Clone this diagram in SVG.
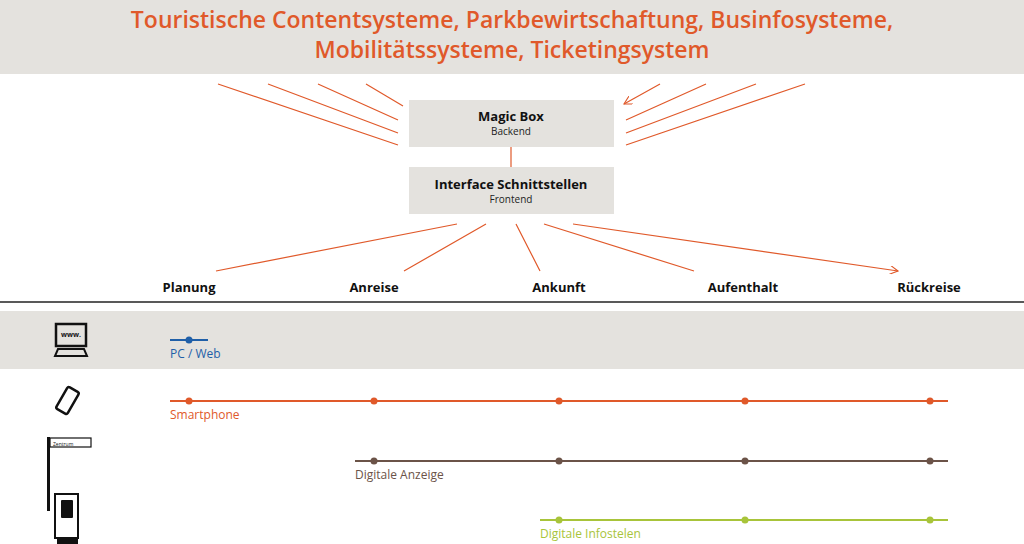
<svg xmlns="http://www.w3.org/2000/svg" width="1024" height="544" viewBox="0 0 1024 544">
<style>
text{font-family:"Open Sans","Liberation Sans",sans-serif}
.t{fill:#e0592a;font-size:23px;font-weight:600;text-anchor:middle}
.box{fill:#e4e2de}
.bh{font-size:13px;font-weight:700;text-anchor:middle;fill:#111}
.bs{font-size:10px;text-anchor:middle;fill:#222}
.ph{font-size:13px;font-weight:700;text-anchor:middle;fill:#111}
.ar{stroke:#e0592a;stroke-width:1.2;fill:none;marker-end:url(#a)}
.lb{font-size:12px}
</style>
<defs><marker id="a" viewBox="0 0 10 10" refX="9" refY="5" markerWidth="9" markerHeight="9" orient="auto" markerUnits="userSpaceOnUse"><path d="M0,0L9,5L0,10" fill="none" stroke="#e0592a" stroke-width="1.2"/></marker></defs>
<rect x="0" y="0" width="1024" height="74" class="box"/>
<text class="t" x="512" y="28">Touristische Contentsysteme, Parkbewirtschaftung, Businfosysteme,</text>
<text class="t" x="512" y="58">Mobilitätssysteme, Ticketingsystem</text>
<g id="connectors">
<path class="ar" d="M218,84L398,145M268,84L398,133M318,84L398,120M366,84L403,106M805,84L626,145M756,84L626,133M706,84L626,120M660,84L624,104"/>
<path d="M511,147V167" stroke="#e0592a" stroke-width="1.2"/>
<path class="ar" d="M457,224L216,271M486,224L404,271M516,224L540,271M544,224L694,271M573,224L898,271"/>
</g>
<g id="magicbox"><rect class="box" x="409" y="100" width="205" height="47"/><text class="bh" x="511" y="121">Magic Box</text><text class="bs" x="511" y="135">Backend</text></g>
<g id="interface"><rect class="box" x="409" y="167" width="205" height="47"/><text class="bh" x="511" y="189">Interface Schnittstellen</text><text class="bs" x="511" y="203">Frontend</text></g>
<g id="phases">
<text class="ph" x="189" y="292">Planung</text><text class="ph" x="374" y="292">Anreise</text><text class="ph" x="559" y="292">Ankunft</text><text class="ph" x="743" y="292">Aufenthalt</text><text class="ph" x="929" y="292">Rückreise</text>
</g>
<line x1="0" y1="302" x2="1024" y2="302" stroke="#222" stroke-width="1.5"/>
<rect x="0" y="311" width="1024" height="58" class="box"/>
<g id="pcweb"><line x1="170" y1="340" x2="208" y2="340" stroke="#1f5fa8" stroke-width="2"/><circle cx="189" cy="340" r="3.5" fill="#1f5fa8"/><text class="lb" x="170" y="358" fill="#1f5fa8">PC / Web</text></g>
<g id="smartphone" fill="#e0592a"><line x1="170" y1="401" x2="948" y2="401" stroke="#e0592a" stroke-width="2"/><circle cx="189" cy="401" r="3.5"/><circle cx="374" cy="401" r="3.5"/><circle cx="559" cy="401" r="3.5"/><circle cx="745" cy="401" r="3.5"/><circle cx="930" cy="401" r="3.5"/><text class="lb" x="170" y="419">Smartphone</text></g>
<g id="anzeige" fill="#6b5348"><line x1="355" y1="461" x2="948" y2="461" stroke="#6b5348" stroke-width="2"/><circle cx="374" cy="461" r="3.5"/><circle cx="559" cy="461" r="3.5"/><circle cx="745" cy="461" r="3.5"/><circle cx="930" cy="461" r="3.5"/><text class="lb" x="355" y="479">Digitale Anzeige</text></g>
<g id="infostelen" fill="#a8c43a"><line x1="540" y1="520" x2="948" y2="520" stroke="#a8c43a" stroke-width="2"/><circle cx="559" cy="520" r="3.5"/><circle cx="745" cy="520" r="3.5"/><circle cx="930" cy="520" r="3.5"/><text class="lb" x="540" y="538">Digitale Infostelen</text></g>
<g id="icons" fill="#111">
<rect x="56" y="324" width="30" height="22" fill="none" stroke="#111" stroke-width="2.5"/><text x="71" y="337" font-size="7" text-anchor="middle" font-weight="700">www.</text><path d="M58,349H84L87,356H55Z" fill="none" stroke="#111" stroke-width="2"/>
<rect x="61" y="388" width="13" height="25" rx="2" transform="rotate(30 67.5 400.5)" fill="none" stroke="#111" stroke-width="2.5"/>
<rect x="47" y="437" width="3" height="74"/><rect x="50" y="438" width="41" height="9" fill="#fff" stroke="#111" stroke-width="1.2"/><text x="53" y="445.5" font-size="5">Zentrum</text>
<rect x="55" y="494" width="23" height="44" fill="none" stroke="#111" stroke-width="2"/><rect x="61" y="500" width="12" height="18" rx="1"/><rect x="57" y="538" width="21" height="6"/>
</g>
</svg>
